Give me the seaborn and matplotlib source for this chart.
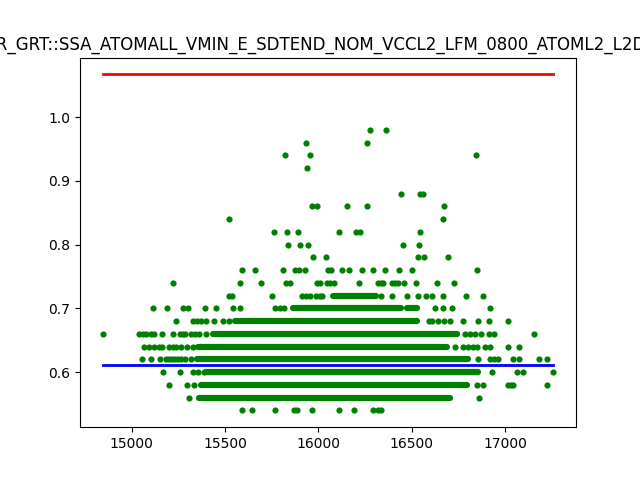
import numpy as np
import pandas as pd
import seaborn as sns
import matplotlib
matplotlib.use("Agg")
import matplotlib.pyplot as plt

title = "VAR_GRT::SSA_ATOMALL_VMIN_E_SDTEND_NOM_VCCL2_LFM_0800_ATOML2_L2D_FLT"

upper_limit = 1.067
lower_limit = 0.611

# isolated points, one list per y level
x_054 = [15590, 15644, 15766, 15871, 15885, 15968, 16110, 16191, 16293, 16320, 16338]
x_056 = [15309, 16862]
x_058 = [15198, 15295, 15332, 16851, 16883, 17018, 17031, 17044, 17227]
x_060 = [15166, 15261, 15327, 15354, 15386, 16929, 17063, 17098, 17259]
x_062 = [15053, 15104, 15154, 15184, 15200, 15217, 15233, 15250, 15265, 15288, 15318,
         16857, 16919, 16940, 16964, 17044, 17077, 17184, 17227]
x_064 = [15064, 15095, 15122, 15145, 15161, 15202, 15220, 15238, 15265, 15295, 15327,
         16731, 16776, 16800, 16826, 16848, 16892, 16919, 17018, 17077]
x_066 = [14844, 15041, 15059, 15077, 15104, 15121, 15161, 15220, 15261, 15275, 15288,
         15318, 15340, 15363, 15400, 16783, 16810, 16840, 16873, 16916, 16941, 17157]
x_068 = [15236, 15327, 15350, 15372, 15400, 15442, 15488, 15522,
         16592, 16610, 16642, 16674, 16705, 16776, 16857, 16916, 17018]
x_070 = [15112, 15188, 15273, 15300, 15391, 15451, 15542, 15579, 15767, 15796, 15814,
         16626, 16669, 16714, 16919]
x_072 = [15520, 15538, 15751, 15912, 15935, 15953, 15989, 16007, 16019,
         16334, 16392, 16472, 16535, 16574, 16607, 16669, 16791, 16884]
x_074 = [15220, 15579, 15692, 15828, 15846, 15993, 16011, 16046, 16061, 16082, 16218,
         16320, 16334, 16347, 16392, 16410, 16427, 16460, 16524, 16637, 16728]
x_076 = [15590, 15658, 15810, 15877, 15894, 15930, 16050, 16070, 16127, 16164, 16231,
         16293, 16356, 16431, 16502, 16851]
x_078 = [15971, 16043, 16535, 16567, 16696]
x_080 = [15837, 15901, 15944, 16454, 16540]
x_082 = [15762, 15832, 15891, 16111, 16204, 16222, 16545]
x_084 = [15520, 16669]
x_086 = [15966, 15993, 16154, 16261, 16674]
x_088 = [16445, 16544, 16561]
x_092 = [15939]
x_094 = [15821, 15955, 16846]
x_096 = [15934, 16261]
x_098 = [16277, 16363]

rows = {0.54: x_054, 0.56: x_056, 0.58: x_058, 0.60: x_060, 0.62: x_062, 0.64: x_064,
        0.66: x_066, 0.68: x_068, 0.70: x_070, 0.72: x_072, 0.74: x_074, 0.76: x_076,
        0.78: x_078, 0.80: x_080, 0.82: x_082, 0.84: x_084, 0.86: x_086, 0.88: x_088,
        0.92: x_092, 0.94: x_094, 0.96: x_096, 0.98: x_098}

# runs of overlapping points (too dense to separate)
band_y = [0.56, 0.58, 0.60, 0.62, 0.64, 0.66, 0.68, 0.70, 0.70, 0.72]
band_x0 = [15359, 15372, 15399, 15349, 15354, 15434, 15551, 15864, 16475, 16079]
band_x1 = [16705, 16794, 16857, 16803, 16687, 16741, 16526, 16445, 16529, 16311]

df = pd.DataFrame([(x, y) for y, xs in rows.items() for x in xs], columns=["x", "y"])

fig, ax = plt.subplots(figsize=(6.4, 4.8), dpi=100)

sns.scatterplot(data=df, x="x", y="y", color="green", s=20, linewidth=0, ax=ax)
bands = ax.hlines(band_y, band_x0, band_x1, colors="green", linewidth=4.47)
bands.set_capstyle("round")

xmin = min(df["x"].min(), min(band_x0))
xmax = max(df["x"].max(), max(band_x1))
ax.plot([xmin, xmax], [upper_limit, upper_limit], color="red", linewidth=2)
ax.plot([xmin, xmax], [lower_limit, lower_limit], color="blue", linewidth=2)

ax.set_xlabel("")
ax.set_ylabel("")
ax.set_title(title)

fig.savefig("out.png")
